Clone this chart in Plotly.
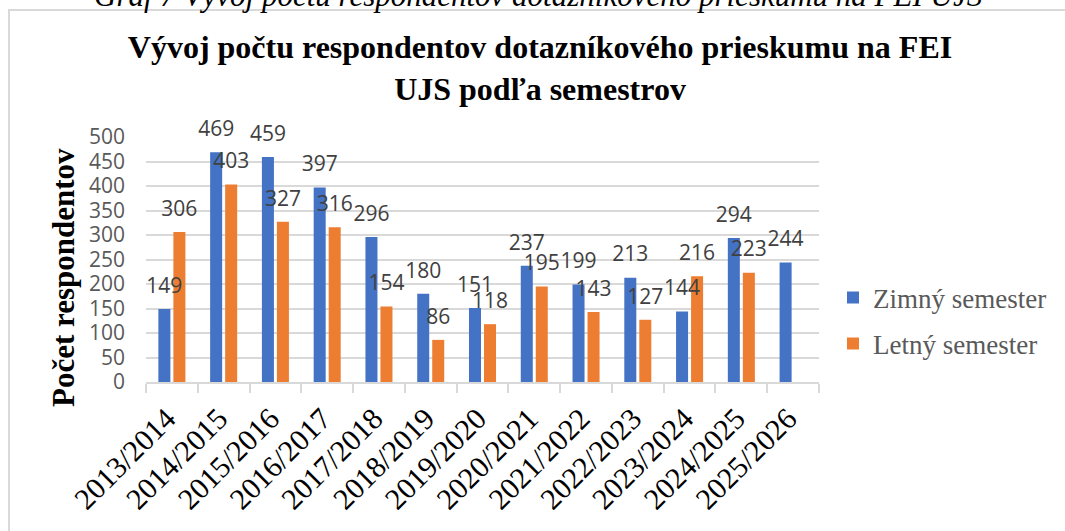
import plotly.graph_objects as go

categories = ["2013/2014", "2014/2015", "2015/2016", "2016/2017", "2017/2018",
              "2018/2019", "2019/2020", "2020/2021", "2021/2022", "2022/2023",
              "2023/2024", "2024/2025", "2025/2026"]
zimny = [149, 469, 459, 397, 296, 180, 151, 237, 199, 213, 144, 294, 244]
letny = [306, 403, 327, 316, 154, 86, 118, 195, 143, 127, 216, 223, None]

series_names = ["Zimný semester", "Letný semester"]
colors = ["#4472C4", "#ED7D31"]

title_text = "Vývoj počtu respondentov dotazníkového prieskumu na FEI<br>UJS podľa semestrov"
caption_text = "Graf 7 Vývoj počtu respondentov dotazníkového prieskumu na FEI UJS"
y_title = "Počet respondentov"

W, H = 1065, 531
L, R, T, B = 146, 246, 137, 149
PW, PH = W - L - R, H - T - B


def px_x(px):
    return (px - L) / PW


def px_y(py):
    return (H - B - py) / PH


SERIF = "Liberation Serif, Times New Roman, serif"
SANS = "Open Sans, Calibri, sans-serif"

fig = go.Figure()
for name, vals, col, grp, lg in zip(series_names, [zimny, letny], colors, ["a", "b"], ["legend", "legend2"]):
    fig.add_trace(go.Bar(
        x=categories, y=vals, name=name, marker=dict(color=col, line=dict(width=0)),
        offsetgroup=grp, legend=lg, hoverinfo="skip",
    ))
for name, vals, grp in zip(series_names, [zimny, letny], ["a", "b"]):
    fig.add_trace(go.Scatter(
        x=categories, y=vals, mode="markers+text", offsetgroup=grp,
        text=[("" if v is None else str(v)) for v in vals],
        textposition="top center",
        textfont=dict(family=SANS, size=21, color="#404040"),
        marker=dict(size=16, opacity=0), showlegend=False, hoverinfo="skip",
        cliponaxis=False,
    ))

fig.update_layout(
    width=W, height=H,
    margin=dict(l=L, r=R, t=T, b=B, autoexpand=False),
    paper_bgcolor="white", plot_bgcolor="white",
    barmode="group", bargap=0.42, bargroupgap=0.2,
    scattermode="group", scattergap=0.42,
    title=dict(text=title_text, x=540 / W, xanchor="center", y=1 - 58 / H, yanchor="middle",
               yref="container", font=dict(family=SERIF, size=32, color="black", weight="bold")),
    legend=dict(x=px_x(833), y=px_y(298), xanchor="left", yanchor="middle",
                font=dict(family=SERIF, size=27, color="#595959"), bgcolor="rgba(0,0,0,0)",
                itemwidth=30),
    legend2=dict(x=px_x(833), y=px_y(344), xanchor="left", yanchor="middle",
                 font=dict(family=SERIF, size=27, color="#595959"), bgcolor="rgba(0,0,0,0)",
                 itemwidth=30),
    xaxis=dict(type="category", tickangle=-45, tickson="boundaries", ticks="outside",
               ticklen=9, tickcolor="#d9d9d9", tickwidth=2, showline=True, linecolor="#d9d9d9",
               linewidth=2, showgrid=False, automargin=False,
               ticklabelstandoff=5, ticklabelshift=-5,
               tickfont=dict(family=SERIF, size=30, color="black")),
    yaxis=dict(range=[0, 500], dtick=50, showgrid=True, gridcolor="#d9d9d9", gridwidth=2,
               zeroline=False, showline=False, ticks="", ticklabelstandoff=20, automargin=False,
               tickfont=dict(family=SANS, size=21, color="#595959")),
    showlegend=True,
)

fig.add_annotation(text=y_title, textangle=-90, x=px_x(63), y=px_y(278), xref="paper", yref="paper",
                   showarrow=False, xanchor="center", yanchor="middle",
                   font=dict(family=SERIF, size=31, color="black", weight="bold"))
fig.add_annotation(text=caption_text, x=px_x(538), y=px_y(6), xref="paper", yref="paper",
                   xanchor="center", yanchor="bottom", yshift=-9, showarrow=False,
                   font=dict(family=SERIF, size=31, color="black", style="italic"))
fig.add_shape(type="rect", xref="paper", yref="paper",
              x0=px_x(9), x1=px_x(1075), y0=px_y(10), y1=px_y(545),
              line=dict(color="#d9d9d9", width=2), fillcolor="rgba(0,0,0,0)", layer="below")

fig.write_html("out.html", config={"displayModeBar": False},
               post_script="document.body.style.margin='0';")
